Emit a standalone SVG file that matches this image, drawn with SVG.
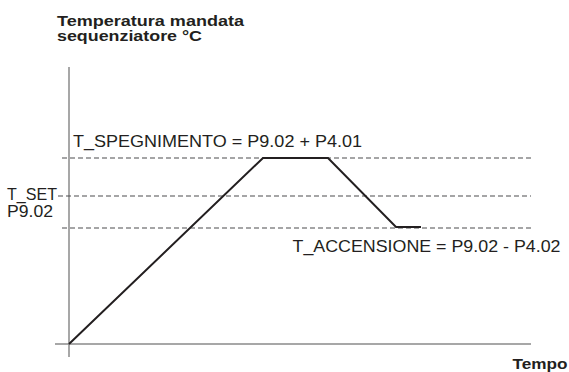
<svg xmlns="http://www.w3.org/2000/svg" width="569" height="372" viewBox="0 0 569 372">
<style>
.t{font-family:"Liberation Sans",Arial,sans-serif;font-size:16.5px;fill:#231f20}
.b{font-family:"Liberation Sans",Arial,sans-serif;font-size:15.5px;font-weight:bold;fill:#231f20}
.axis{stroke:#8a8a8a;stroke-width:1.5;fill:none}
.dash{stroke:#4d4d4f;stroke-width:1.1;stroke-dasharray:5 3;fill:none}
.plot{stroke:#231f20;stroke-width:2;fill:none;stroke-linejoin:miter}
</style>
<rect width="569" height="372" fill="#ffffff"/>
<g id="axes">
<line class="axis" x1="69" y1="67" x2="69" y2="357"/>
<line class="axis" x1="55" y1="344" x2="531" y2="344"/>
</g>
<g id="connectors">
<line class="dash" x1="62" y1="158" x2="531" y2="158"/>
<line class="dash" x1="58" y1="196" x2="531" y2="196"/>
<line class="dash" x1="62" y1="228" x2="531" y2="228"/>
<path class="plot" d="M69,344 L263,158 L328,158 L396,227 L421,227"/>
</g>
<g id="labels">
<text class="b" x="57" y="25.7" textLength="187" lengthAdjust="spacingAndGlyphs">Temperatura mandata</text>
<text class="b" x="57" y="41" textLength="145" lengthAdjust="spacingAndGlyphs">sequenziatore °C</text>
<text class="t" x="73" y="147" textLength="289" lengthAdjust="spacingAndGlyphs">T_SPEGNIMENTO = P9.02 + P4.01</text>
<text class="t" x="7" y="200" textLength="50" lengthAdjust="spacingAndGlyphs">T_SET</text>
<text class="t" x="7" y="217" textLength="46" lengthAdjust="spacingAndGlyphs">P9.02</text>
<text class="t" x="292.5" y="251.7" textLength="268" lengthAdjust="spacingAndGlyphs">T_ACCENSIONE = P9.02 - P4.02</text>
<text class="b" x="512.5" y="369" textLength="55" lengthAdjust="spacingAndGlyphs">Tempo</text>
</g>
</svg>
